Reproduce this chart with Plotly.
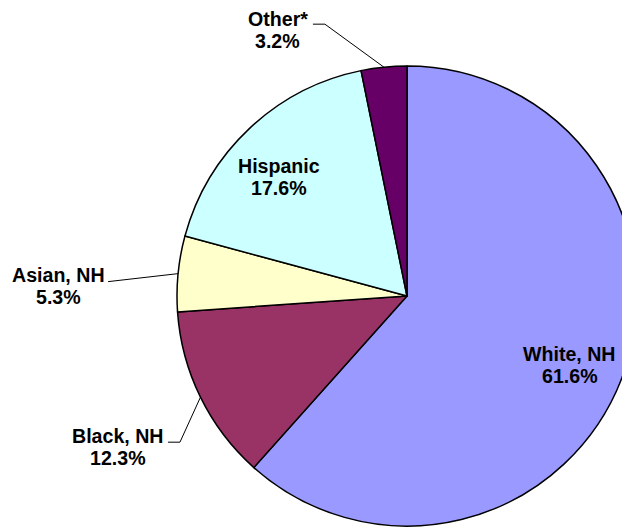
import math
import plotly.graph_objects as go

# ---- data ----
groups = ["White, NH", "Black, NH", "Asian, NH", "Hispanic", "Other*"]
shares = [61.6, 12.3, 5.3, 17.6, 3.2]

# ---- styles ----
colors = ["#9999FF", "#993366", "#FFFFCC", "#CCFFFF", "#660066"]
W, H = 630, 527
OFF = 8                              # page offset of the figure (body margin)
cx, cy, R = 407, 296, 230            # pie centre / radius in screen pixels
FONT = "Liberation Sans, Arial, sans-serif"
FS = 19.6

# label placement styles
# inside labels: (radial factor, dx, dy)
inside_style = {"White, NH": (0.75, 1.5, 7.5), "Hispanic": (0.78, -5, 12)}
# outside labels: elbow offset from rim point, end offset from elbow, text centre offset from elbow
outside_style = {
    "Other*": ((-59, -43), (-12, 0), (-47, 6)),
    "Asian, NH": ((-70, 8), (0, 0), (-50, 4)),
    "Black, NH": ((-20.5, 45), (-12, 0), (-62, 5)),
}


def px(x):
    return (x - OFF) / W


def py(y):
    return 1 - (y - OFF) / H


total = sum(shares)
fig = go.Figure()
fig.add_trace(go.Pie(
    labels=groups, values=shares, sort=False, direction="clockwise", rotation=0,
    marker=dict(colors=colors, line=dict(color="black", width=1.5)),
    textinfo="none", showlegend=False,
    domain=dict(x=[px(cx - R), px(cx + R)], y=[py(cy + R), py(cy - R)]),
))

annotations = []
shapes = []
cum = 0.0
for g, v in zip(groups, shares):
    mid = (cum + v / 2) / total * 2 * math.pi
    cum += v
    s, c = math.sin(mid), math.cos(mid)
    pct = f"{v / total * 100:.1f}%"
    if g in inside_style:
        f, dx, dy = inside_style[g]
        tx, ty = cx + f * R * s + dx, cy - f * R * c + dy
    else:
        (ex, ey), (lx, ly), (ox, oy) = outside_style[g]
        rx, ry = cx + R * s, cy - R * c
        bx, by = rx + ex, ry + ey
        shapes.append(dict(type="path", xref="paper", yref="paper",
                           path=f"M {px(rx)} {py(ry)} L {px(bx)} {py(by)} L {px(bx + lx)} {py(by + ly)}",
                           line=dict(color="black", width=1)))
        tx, ty = bx + ox, by + oy
    for txt, yy in ((g, ty - 11), (pct, ty + 11)):
        annotations.append(dict(x=px(tx), y=py(yy), xref="paper", yref="paper",
                                text=f"<b>{txt}</b>", showarrow=False,
                                xanchor="center", yanchor="middle",
                                font=dict(family=FONT, size=FS, color="black")))

fig.update_layout(
    width=W, height=H, autosize=False,
    margin=dict(l=0, r=0, t=0, b=0),
    paper_bgcolor="white", plot_bgcolor="white",
    annotations=annotations, shapes=shapes,
)
fig.write_html("out.html")
